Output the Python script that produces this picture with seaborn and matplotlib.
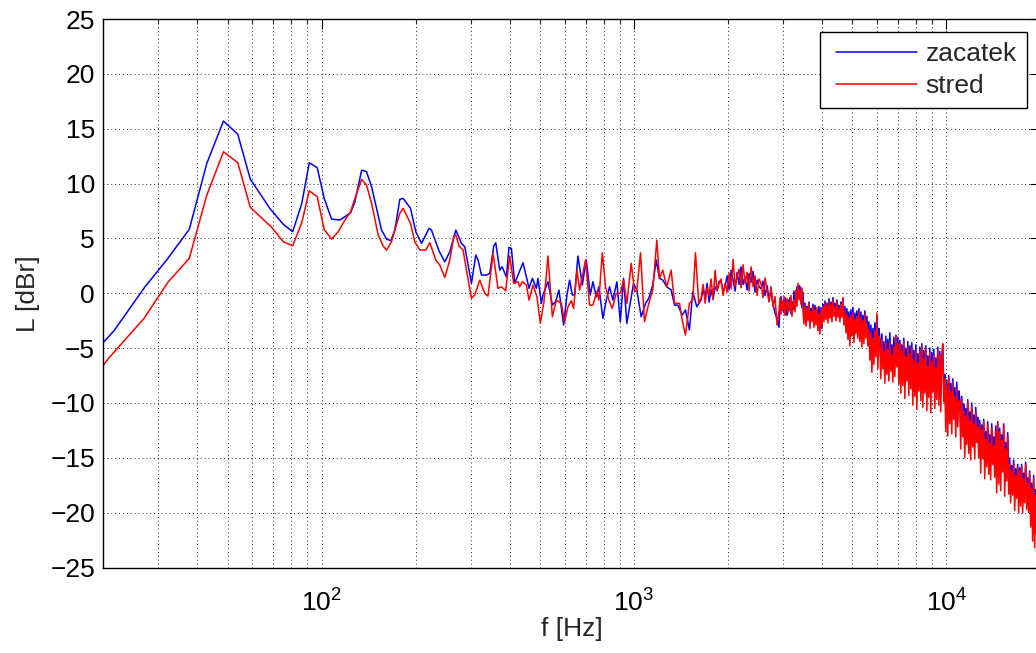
import numpy as np
import pandas as pd
import matplotlib
matplotlib.use("Agg")
import matplotlib.pyplot as plt
from matplotlib.lines import Line2D
from matplotlib.legend_handler import HandlerLine2D
from matplotlib.ticker import FixedLocator, FixedFormatter, LogLocator, NullFormatter
import seaborn as sns

# ---------------- data ----------------
freq_blue_low = [20.0, 21.6, 27.2, 31.9, 37.7, 42.9, 48.5, 53.9, 59.1, 68.4,
                 75.4, 80.8, 86.4, 91.3, 96.8, 101.9, 107.6, 114.4, 123.8, 127.8,
                 134.3, 139.2, 144.5, 155.5, 161.4, 166.6, 171.5, 177.9, 182.3, 192.5,
                 200.2, 208.8, 220.8, 224.7, 237.7, 247.9, 257.2, 268.8, 280.3, 287.2,
                 301.7, 311.4, 316.7, 324.8, 337.0, 345.3, 355.6, 360.9, 371.5, 377.9,
                 390.3, 397.9, 405.0, 415.0, 425.2, 441.1, 452.3, 461.1, 472.8, 486.9,
                 492.6, 505.1, 511.0, 530.2, 547.7, 561.1, 575.0, 595.2, 609.9, 622.1,
                 634.6, 645.5, 661.3, 669.5, 682.9, 703.3, 724.4, 738.4, 757.2, 771.8,
                 794.9, 815.0, 835.1, 855.6, 881.2, 903.6, 925.7, 948.4, 972.5, 996.4,
                 1021, 1054, 1089, 1115, 1148, 1178, 1206, 1236, 1273, 1315,
                 1348, 1380, 1426, 1461, 1504, 1542, 1588]
level_blue_low = [-4.48, -3.45, 0.59, 3.03, 5.83, 11.84, 15.70, 14.49, 10.41, 7.7,
                  6.28, 5.61, 8.2, 11.90, 11.44, 8.65, 6.76, 6.67, 7.34, 8.34,
                  11.23, 11.08, 9.71, 5.76, 4.94, 4.79, 5.76, 8.56, 8.65, 7.74,
                  5.61, 4.55, 5.92, 5.76, 3.85, 2.87, 3.78, 5.76, 4.55, 4.24,
                  0.90, 3.48, 3.03, 1.66, 1.66, 1.81, 4.30, 4.60, 2.11, 2.42,
                  1.50, 4.18, 4.09, 0.90, 1.66, 2.78, 1.50, 0.45, 1.36, 0.45,
                  1.36, -0.92, -0.16, 1.05, -1.08, -0.77, 0.29, -2.90, -0.16, 1.20,
                  -0.16, -0.16, 3.39, 2.42, 0.75, 3.03, -0.16, 1.05, -0.32, 0.59,
                  -2.29, -0.62, 0.59, -0.62, 1.05, -2.60, 1.36, -2.74, -0.92, 0.90,
                  0.29, -2.14, -0.92, -0.46, 0.75, 3.03, 1.36, 1.20, 0.59, 0.29,
                  -1.08, -1.08, -1.99, -1.53, -3.35, 0.14, -1.23]

freq_red_low = [20.0, 20.8, 27.0, 32.3, 37.7, 42.9, 48.5, 53.9, 59.1, 69.2,
                75.4, 80.8, 86.4, 91.3, 96.8, 101.9, 107.6, 113.0, 118.7, 123.8,
                127.8, 134.3, 139.2, 144.5, 151.7, 157.4, 161.4, 167.4, 171.5, 177.9,
                182.3, 192.5, 198.7, 206.2, 215.5, 222.0, 232.0, 238.9, 247.9, 257.2,
                264.8, 268.8, 275.4, 283.6, 292.1, 301.7, 309.1, 320.7, 332.7, 340.8,
                353.8, 366.9, 376.2, 388.3, 399.9, 411.9, 425.2, 430.5, 439.1, 452.3,
                461.1, 474.9, 489.0, 501.4, 514.8, 530.2, 547.7, 564.1, 585.2, 599.8,
                614.4, 630.0, 640.7, 656.6, 669.5, 699.5, 720.6, 738.4, 760.5, 771.8,
                791.4, 810.8, 830.8, 851.9, 877.4, 903.6, 925.7, 948.4, 979.5, 1004,
                1021, 1049, 1080, 1115, 1148, 1183, 1206, 1236, 1273, 1315,
                1348, 1398, 1426, 1461, 1504, 1542, 1573, 1611]
level_red_low = [-6.55, -5.93, -2.29, 1.05, 3.18, 8.95, 12.90, 11.90, 7.83, 6.01,
                 4.69, 4.33, 6.46, 9.34, 8.80, 5.82, 4.94, 5.61, 6.67, 7.43,
                 8.65, 10.38, 9.86, 8.20, 5.31, 4.30, 3.94, 4.69, 5.76, 7.28,
                 7.74, 6.37, 4.69, 3.94, 3.94, 4.60, 3.03, 2.57, 1.45, 3.03,
                 5.21, 5.31, 4.30, 3.94, 1.81, -0.46, -0.16, 1.20, -0.01, -0.26,
                 3.64, 0.45, 0.59, 0.23, 3.39, 0.90, 1.05, 0.59, 1.05, 0.75,
                 -0.62, 0.75, -0.32, -2.74, -0.77, 3.39, -2.14, -0.62, -0.92, -2.60,
                 -1.23, -0.68, -1.38, 2.11, 0.29, 3.03, -1.08, -1.08, 0.14, -0.62,
                 3.69, 0.59, -0.62, -1.38, -0.01, -0.01, 1.20, -0.92, 2.73, 0.14,
                 0.29, 3.69, -2.60, -0.92, 0.29, 4.85, 1.36, 2.11, 0.59, 2.11,
                 -0.92, -0.92, -2.44, -3.81, -0.92, -0.62, 3.69, -0.92]

freq_high = [1640, 1664, 1689, 1714, 1739, 1765, 1791, 1818, 1845, 1872,
             1900, 1928, 1957, 1986, 2015, 2045, 2076, 2106, 2138, 2169,
             2202, 2234, 2267, 2301, 2335, 2370, 2405, 2440, 2477, 2513,
             2551, 2588, 2627, 2666, 2705, 2745, 2786, 2827, 2869, 2912,
             2933, 2955, 2977, 2999, 3021, 3043, 3065, 3088, 3111, 3134,
             3157, 3181, 3204, 3228, 3252, 3276, 3300, 3324, 3348, 3373,
             3398, 3423, 3448, 3474, 3500, 3526, 3552, 3578, 3604, 3631,
             3658, 3685, 3712, 3740, 3767, 3795, 3823, 3851, 3879, 3908,
             3937, 3966, 3995, 4025, 4055, 4085, 4115, 4145, 4176, 4207,
             4238, 4269, 4301, 4333, 4365, 4397, 4429, 4462, 4495, 4528,
             4561, 4595, 4629, 4663, 4698, 4733, 4768, 4803, 4838, 4874,
             4910, 4946, 4983, 5020, 5057, 5094, 5132, 5170, 5208, 5246,
             5285, 5324, 5363, 5403, 5443, 5483, 5523, 5564, 5605, 5647,
             5689, 5731, 5773, 5816, 5859, 5902, 5945, 5989, 6033, 6078,
             6123, 6168, 6214, 6260, 6306, 6353, 6400, 6447, 6494, 6542,
             6590, 6639, 6688, 6738, 6788, 6838, 6888, 6939, 6990, 7042,
             7094, 7146, 7199, 7252, 7306, 7360, 7414, 7469, 7524, 7580,
             7636, 7692, 7749, 7806, 7864, 7922, 7981, 8040, 8099, 8159,
             8219, 8280, 8341, 8403, 8465, 8527, 8590, 8654, 8718, 8782,
             8847, 8912, 8978, 9044, 9111, 9178, 9246, 9314, 9383, 9453,
             9523, 9593, 9664, 9735, 9807, 9879, 9952, 10026, 10100, 10175,
             10250, 10325, 10402, 10479, 10556, 10634, 10713, 10792, 10872, 10952,
             11033, 11114, 11196, 11279, 11362, 11446, 11531, 11616, 11702, 11788,
             11875, 11963, 12051, 12140, 12230, 12320, 12411, 12503, 12595, 12688,
             12782, 12877, 12972, 13068, 13164, 13261, 13359, 13458, 13558, 13658,
             13759, 13860, 13963, 14066, 14170, 14274, 14380, 14486, 14593, 14701,
             14810, 14919, 15029, 15140, 15252, 15365, 15478, 15592, 15708, 15824,
             15941, 16058, 16177, 16296, 16417, 16538, 16660, 16783, 16907, 17032,
             17158, 17285, 17413, 17541, 17671, 17801, 17933, 18065, 18199, 18333,
             18469, 18605, 18743, 18881, 19021, 19161, 19303, 19445, 19589, 19733,
             19866, 20000]
level_blue_high = [-0.6, 0.4, -0.3, 0.9, -0.8, 0.3, -0.5, 0.6, 0.3, 1.1,
                   1.0, 0.2, 0.6, 1.6, 0.3, 2.1, 1.2, 0.2, 1.9, 0.8,
                   2.4, 0.8, 1.5, 0.3, 1.8, 1.0, 2.0, 0.1, 1.2, 0.6,
                   0.4, 1.1, -0.2, 0.7, -0.5, 0.2, -1.0, -1.8, -2.3, -3.1,
                   -1.0, -0.3, -1.6, -0.7, -1.8, -0.4, -1.3, -2.0, -0.6, -1.4,
                   -0.4, -1.9, -0.8, -1.5, 0.2, -1.0, -0.3, 0.6, -0.5, 0.7,
                   0.6, -0.4, -1.3, 0.1, -2.2, -0.9, -2.6, -1.2, -1.9, -0.8,
                   -2.7, -1.4, -2.0, -1.0, -2.5, -1.1, -2.3, -1.6, -2.9, -1.2,
                   -2.5, -1.3, -3.2, -1.0, -2.0, -0.7, -1.9, -0.9, -2.2, -0.5,
                   -1.8, -0.8, -2.0, -0.4, -1.7, -0.9, -2.1, -0.6, -1.6, -1.1,
                   -1.9, -0.8, -1.6, -0.5, -2.3, -1.2, -2.8, -1.4, -3.3, -1.7,
                   -3.9, -1.5, -3.1, -1.3, -3.6, -1.8, -2.9, -1.6, -3.2, -1.4,
                   -3.1, -1.7, -3.8, -2.0, -3.5, -1.6, -3.2, -2.1, -3.9, -2.6,
                   -5.0, -2.9, -5.8, -3.2, -5.3, -2.7, -4.6, -2.1, -5.4, -3.2,
                   -4.1, -6.2, -3.7, -5.8, -4.4, -7.0, -3.9, -6.3, -4.2, -6.8,
                   -3.6, -6.0, -4.7, -6.9, -4.0, -6.4, -3.9, -5.7, -4.0, -7.1,
                   -4.3, -7.6, -4.7, -7.0, -4.1, -8.2, -5.0, -6.9, -4.4, -7.9,
                   -4.8, -7.4, -4.5, -8.6, -5.2, -8.0, -4.7, -9.1, -5.5, -7.6,
                   -4.9, -8.3, -4.6, -8.9, -5.2, -7.8, -4.8, -9.2, -5.7, -8.1,
                   -5.0, -9.4, -5.4, -7.9, -5.1, -9.0, -5.9, -8.4, -4.9, -8.8,
                   -5.3, -9.1, -5.8, -4.7, -8.6, -7.4, -10.8, -7.9, -11.4, -7.5,
                   -10.5, -8.2, -11.1, -7.8, -10.2, -8.6, -11.6, -8.1, -10.9, -8.9,
                   -9.6, -12.5, -9.4, -11.8, -10.1, -13.3, -10.5, -12.4, -9.7, -13.0,
                   -10.8, -13.6, -10.0, -12.6, -11.1, -13.5, -10.4, -12.3, -11.3, -13.4,
                   -11.6, -14.7, -12.0, -13.9, -11.5, -15.2, -12.6, -14.4, -11.7, -14.9,
                   -12.9, -15.5, -11.9, -14.2, -13.1, -15.3, -12.1, -16.4, -11.7, -15.8,
                   -12.3, -16.1, -12.9, -15.0, -11.9, -16.6, -13.6, -15.8, -12.7, -16.4,
                   -15.0, -17.3, -15.7, -16.9, -15.2, -18.1, -16.0, -17.4, -15.6, -18.2,
                   -15.9, -18.2, -15.6, -18.8, -16.4, -17.9, -15.4, -18.5, -16.8, -18.9,
                   -16.2, -20.1, -17.3, -21.0, -16.6, -21.8, -17.9, -20.7, -19.0, -22.4,
                   -21.4, -22.9]
level_red_high = [-0.4, 0.8, -0.9, 0.5, -0.2, 1.3, -0.6, 2.1, 0.2, 0.9,
                  1.3, -0.2, 0.9, 0.1, 1.8, 0.4, 3.1, 0.6, 1.5, 2.2,
                  0.5, 2.6, 0.9, 1.9, 0.2, 2.4, 0.6, 1.6, -0.2, 1.3,
                  0.9, -0.4, 1.4, 0.2, -0.8, 0.6, -1.2, -0.3, -2.9, -1.6,
                  -0.4, -1.9, -0.7, -1.5, -0.3, -2.0, -1.1, -0.5, -1.8, -0.8,
                  -1.6, -0.2, -2.1, -1.0, -0.6, -1.7, 0.3, -1.2, 0.9, -0.6,
                  0.3, -1.0, 0.5, -1.6, -2.8, -1.1, -3.0, -1.4, -2.5, -0.9,
                  -3.2, -1.7, -2.6, -1.2, -3.1, -1.5, -2.9, -1.3, -3.4, -1.9,
                  -3.7, -1.5, -3.0, -1.2, -2.6, -0.9, -2.4, -1.1, -2.7, -0.7,
                  -2.3, -1.0, -2.6, -0.6, -2.1, -1.2, -2.5, -0.8, -2.2, -1.4,
                  -2.6, -1.0, -2.2, -0.4, -2.9, -1.6, -3.6, -1.9, -4.2, -2.2,
                  -4.8, -2.0, -3.9, -1.8, -4.5, -2.4, -3.7, -2.1, -4.1, -1.7,
                  -4.4, -2.2, -4.9, -2.5, -4.6, -1.9, -4.1, -2.7, -4.8, -3.3,
                  -6.1, -3.6, -7.2, -4.1, -6.5, -3.4, -5.8, -1.8, -6.9, -3.9,
                  -4.6, -7.8, -4.2, -6.9, -5.3, -8.2, -4.5, -7.4, -5.1, -8.0,
                  -4.4, -7.1, -5.6, -8.1, -4.9, -7.6, -3.8, -6.7, -4.6, -8.3,
                  -4.6, -9.1, -5.2, -8.4, -4.4, -9.6, -5.8, -8.0, -4.9, -9.3,
                  -5.5, -8.7, -5.0, -10.2, -6.1, -9.4, -5.3, -10.6, -6.4, -8.9,
                  -5.3, -9.8, -4.8, -10.4, -6.0, -9.1, -5.1, -10.7, -6.6, -9.5,
                  -5.4, -10.9, -6.2, -9.0, -5.7, -10.5, -6.8, -9.7, -5.2, -10.2,
                  -5.6, -10.8, -6.3, -4.6, -9.9, -7.8, -12.6, -8.4, -13.0, -7.7,
                  -11.9, -9.0, -12.8, -8.1, -11.5, -9.4, -13.1, -8.7, -12.2, -9.8,
                  -10.1, -14.2, -9.6, -13.1, -10.7, -15.0, -11.2, -13.8, -9.9, -14.6,
                  -11.6, -15.2, -10.4, -14.0, -11.9, -15.1, -10.8, -13.6, -12.2, -15.0,
                  -11.9, -16.4, -12.4, -15.1, -11.7, -16.9, -13.3, -15.8, -12.0, -16.5,
                  -13.7, -17.0, -12.3, -15.6, -13.9, -16.8, -12.6, -18.2, -11.8, -17.4,
                  -12.6, -18.0, -13.4, -16.3, -12.1, -18.5, -14.2, -17.1, -13.0, -18.3,
                  -15.6, -19.1, -16.2, -18.4, -15.5, -19.8, -16.6, -18.7, -15.9, -20.0,
                  -16.2, -19.4, -15.8, -20.0, -16.9, -19.1, -15.6, -19.7, -17.3, -20.0,
                  -16.4, -21.3, -17.8, -22.6, -16.9, -23.2, -18.4, -22.0, -19.6, -23.6,
                  -22.1, -23.8]

series_names = ["zacatek", "stred"]
series_colors = ["#0000ff", "#ff0000"]
y_ticks = [-25, -20, -15, -10, -5, 0, 5, 10, 15, 20, 25]
x_ticks = [100, 1000, 10000]
x_tick_labels = [r"$\mathregular{10^{2}}$", r"$\mathregular{10^{3}}$", r"$\mathregular{10^{4}}$"]
x_label = "f [Hz]"
y_label = "L [dBr]"

# ---------------- build table ----------------
df = pd.concat([
    pd.DataFrame({"f": freq_blue_low + freq_high,
                  "L": level_blue_low + level_blue_high,
                  "series": series_names[0]}),
    pd.DataFrame({"f": freq_red_low + freq_high,
                  "L": level_red_low + level_red_high,
                  "series": series_names[1]}),
], ignore_index=True)

# ---------------- style ----------------
FS = 19
sns.set_style("white")
plt.rcParams["font.family"] = ["Liberation Sans", "DejaVu Sans"]
plt.rcParams["mathtext.fontset"] = "custom"
plt.rcParams["mathtext.rm"] = "Liberation Sans"
plt.rcParams["axes.unicode_minus"] = True

fig = plt.figure(figsize=(10.36, 6.53), dpi=100)
ax = fig.add_axes([0.0997, 0.1309, 0.9046, 0.8400])

sns.lineplot(data=df, x="f", y="L", hue="series", hue_order=series_names,
             palette=dict(zip(series_names, series_colors)),
             estimator=None, sort=False, linewidth=1.1, ax=ax)

ax.set_xscale("log")
ax.set_xlim(20, 20000)
ax.set_ylim(-25, 25)

ax.xaxis.set_major_locator(FixedLocator(x_ticks))
ax.xaxis.set_major_formatter(FixedFormatter(x_tick_labels))
ax.xaxis.set_minor_locator(LogLocator(base=10, subs=np.arange(2, 10), numticks=20))
ax.xaxis.set_minor_formatter(NullFormatter())
ax.set_yticks(y_ticks)

ax.tick_params(axis="both", which="major", direction="in", length=7, width=0.8,
               top=True, right=True, labelsize=FS, colors="black")
ax.tick_params(axis="y", which="major", pad=6)
ax.tick_params(axis="x", which="major", pad=16)
ax.tick_params(axis="both", which="minor", direction="in", length=3.5, width=0.8,
               top=True, right=True)

grid_kw = dict(color="black", linestyle=(0, (1, 3)), linewidth=0.7, alpha=0.85)
ax.grid(True, which="major", axis="both", **grid_kw)
ax.grid(True, which="minor", axis="x", **grid_kw)
ax.set_axisbelow(True)

for s in ax.spines.values():
    s.set_color("black")
    s.set_linewidth(1.0)

ax.set_xlabel(x_label, fontsize=FS, labelpad=0)
ax.set_ylabel(y_label, fontsize=FS, labelpad=7)

handles, labels = ax.get_legend_handles_labels()
leg = ax.legend(handles, labels, loc="upper right", bbox_to_anchor=(0.9856, 0.9763),
                borderaxespad=0, fontsize=FS, frameon=True, fancybox=False,
                framealpha=1, edgecolor="black", handlelength=3.3,
                handletextpad=0.33, borderpad=0.38, labelspacing=0.3,
                handler_map={Line2D: HandlerLine2D(xpad=0.25)})
leg.get_frame().set_linewidth(1.0)
for line in leg.get_lines():
    line.set_linewidth(1.1)

fig.savefig("out.png", dpi=100)
